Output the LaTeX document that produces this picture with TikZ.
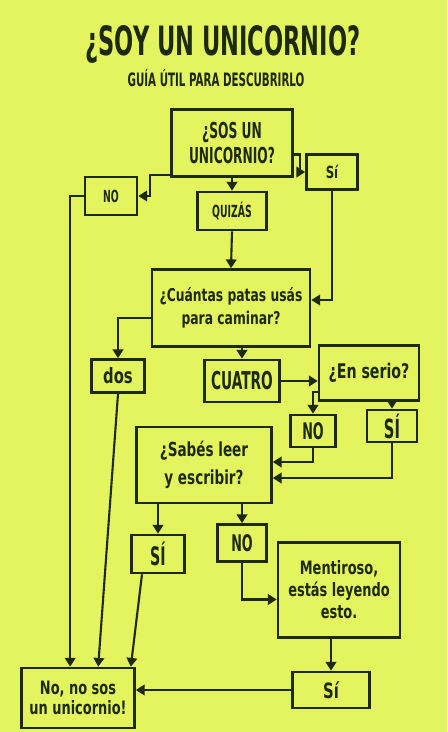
\documentclass[tikz,border=0pt]{standalone}
\usepackage{fontspec}
\newfontfamily\handfont[FakeStretch=0.78]{DejaVu Sans Condensed}
\newfontfamily\tallfont[FakeStretch=0.62]{DejaVu Sans Condensed}
\newcommand\hfs[2]{\handfont\bfseries\fontsize{#1}{#2}\selectfont}
\newcommand\tfs[2]{\tallfont\bfseries\fontsize{#1}{#2}\selectfont}
\usetikzlibrary{arrows.meta, positioning}
\definecolor{paper}{RGB}{228,244,95}
\definecolor{ink}{RGB}{30,42,16}

\begin{document}
\begin{tikzpicture}[x=0.02cm, y=-0.02cm,
  box/.style={draw=ink, line width=1.5pt, text=ink, inner sep=1pt, align=center},
  arr/.style={draw=ink, line width=1.2pt, -{Triangle[length=5pt,width=6pt]}}]
  % Paper, 447 x 732 px
  \fill[paper] (0,0) rectangle (447,732);
  \useasboundingbox (0,0) rectangle (447,732);
  % Heading
  \node[text=ink, font=\tfs{23}{25}] (title) at (223,44) {¿SOY UN UNICORNIO?};
  \node[text=ink, font=\tfs{10.5}{12}] (subtitle) at (216,78) {GUÍA ÚTIL PARA DESCUBRIRLO};
  % Boxes
  \node[box, minimum width=2.42cm, minimum height=1.34cm, font=\tfs{12.5}{14}] (sos) at (232,143) {¿SOS UN\\UNICORNIO?};
  \node[box, minimum width=1.04cm, minimum height=0.76cm, font=\tfs{9.5}{11}] (no1) at (111,196) {NO};
  \node[box, minimum width=1.02cm, minimum height=0.70cm, font=\hfs{9.5}{11}] (si1) at (332,172) {Sí};
  \node[box, minimum width=1.38cm, minimum height=0.76cm, font=\tfs{9.5}{11}] (quizas) at (232,211) {QUIZÁS};
  \node[box, minimum width=3.16cm, minimum height=1.54cm, font=\hfs{10}{13}] (patas) at (231,308) {¿Cuántas patas usás\\para caminar?};
  \node[box, minimum width=1.06cm, minimum height=0.66cm, font=\hfs{12}{13}] (dos) at (118,376) {dos};
  \node[box, minimum width=1.50cm, minimum height=0.84cm, font=\tfs{14}{16}] (cuatro) at (242,381) {CUATRO};
  \node[box, minimum width=2.00cm, minimum height=1.10cm, font=\hfs{11.5}{13}] (serio) at (369,373) {¿En serio?};
  \node[box, minimum width=0.90cm, minimum height=0.64cm, font=\tfs{13}{14}] (no2) at (313,431) {NO};
  \node[box, minimum width=1.00cm, minimum height=0.64cm, font=\tfs{15}{16}] (si2) at (392,426) {SÍ};
  \node[box, minimum width=2.70cm, minimum height=1.52cm, font=\hfs{11}{16}] (leer) at (204,465) {¿Sabés leer\\y escribir?};
  \node[box, minimum width=1.06cm, minimum height=0.76cm, font=\tfs{14.5}{16}] (si3) at (158,554) {SÍ};
  \node[box, minimum width=0.98cm, minimum height=0.74cm, font=\tfs{13}{14}] (no3) at (242,543) {NO};
  \node[box, minimum width=2.44cm, minimum height=1.90cm, font=\hfs{10.5}{12.5}] (mentira) at (339,590) {Mentiroso,\\estás leyendo\\esto.};
  \node[box, minimum width=1.54cm, minimum height=0.72cm, font=\hfs{12}{13}] (si4) at (331,690) {Sí};
  \node[box, minimum width=2.26cm, minimum height=1.20cm, font=\hfs{10.5}{11.5}] (final) at (78,698) {No, no sos\\un unicornio!};
  % Connectors
  \draw[arr] ([yshift=0.06cm]sos.south west) -- ++(-20,0) |- (no1.east);
  \draw[arr] ([yshift=-0.23cm]sos.east) -- ++(6,0) |- (si1.west);
  \draw[arr] (sos.south) -- (quizas.north);
  \draw[arr] (quizas.south) -- (patas.north);
  \draw[arr] (si1.south) |- ([yshift=0.16cm]patas.east);
  \draw[arr] (no1.west) -| ([xshift=1cm]final.north west);
  \draw[arr] ([yshift=-0.2cm]patas.west) -| (dos.north);
  \draw[arr] (dos.south) -- ([xshift=1.56cm]final.north west);
  \draw[arr] (cuatro.north |- patas.south) -- (cuatro.north);
  \draw[arr] (cuatro.east) -- (cuatro.east -| serio.west);
  \draw[arr] ([yshift=0.2cm]serio.south west) -| (no2.north);
  \draw[arr] (serio.south -| si2.north) -- (si2.north);
  \draw[arr] (no2.south) |- ([yshift=0.06cm]leer.east);
  \draw[arr] (si2.south) |- ([yshift=-0.26cm]leer.east);
  \draw[arr] (si3.north |- leer.south) -- (si3.north);
  \draw[arr] (no3.north |- leer.south) -- (no3.north);
  \draw[arr] ([xshift=-0.32cm]si3.south) -- ([xshift=-0.1cm]final.north east);
  \draw[arr] (no3.south) |- ([yshift=-0.19cm]mentira.west);
  \draw[arr] (mentira.south -| si4.north) -- (si4.north);
  \draw[arr] (si4.west) -- (si4.west -| final.east);
\end{tikzpicture}
\end{document}
